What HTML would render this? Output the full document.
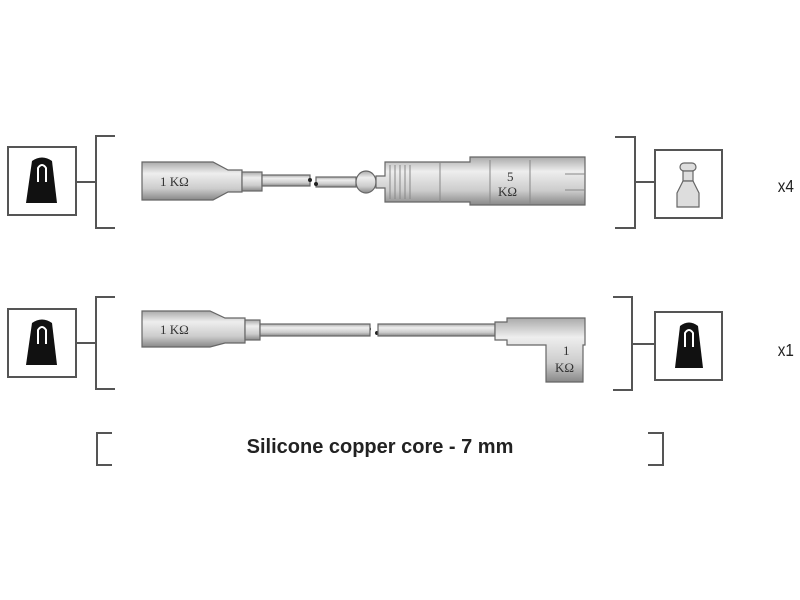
<!DOCTYPE html>
<html><head><style>body{margin:0;background:#fff}svg{display:block}</style></head><body>
<svg width="800" height="600" viewBox="0 0 800 600" xmlns="http://www.w3.org/2000/svg">
<defs>
<linearGradient id="g" x1="0" y1="0" x2="0" y2="1">
<stop offset="0" stop-color="#aaa"/><stop offset="0.3" stop-color="#eee"/><stop offset="0.7" stop-color="#ccc"/><stop offset="1" stop-color="#888"/>
</linearGradient>
</defs>
<g fill="none" stroke="#555" stroke-width="2">
<rect x="8" y="147" width="68" height="68"/>
<path d="M76 182H96M115 136H96V228H115"/>
<path d="M615 137H635V228H615M635 182H655"/>
<rect x="655" y="150" width="67" height="68"/>
<rect x="8" y="309" width="68" height="68"/>
<path d="M76 343H96M115 297H96V389H115"/>
<path d="M613 297H632V390H613M632 344H655"/>
<rect x="655" y="312" width="67" height="68"/>
<path d="M112 433H97V465H112"/>
<path d="M648 433H663V465H648"/>
</g>
<g fill="#111">
<path d="M32 161Q42 154 52 161L57 203H26Z"/>
<path d="M32 323Q42 316 52 323L57 365H26Z"/>
<path d="M680 326Q689 319 698 326L703 368H675Z"/>
</g>
<g fill="none" stroke="#fff" stroke-width="2"><path d="M38 182V168Q42 162 46 168V182"/><path d="M38 344V330Q42 324 46 330V344"/><path d="M685 347V333Q689 327 693 333V347"/></g>
<g stroke="#666" fill="#ddd" stroke-width="1.2">
<rect x="680" y="163" width="16" height="8" rx="4"/>
<rect x="683" y="171" width="10" height="10"/>
<path d="M683 181L677 193V207H699V193L693 181Z"/>
</g>
<g stroke="#666" stroke-width="1.2" fill="url(#g)">
<path d="M142 162H213L228 170H242V192H228L213 200H142Z"/>
<rect x="242" y="172" width="20" height="19"/>
<rect x="262" y="175" width="48" height="11"/>
<rect x="316" y="177" width="40" height="10"/>
<ellipse cx="366" cy="182" rx="10" ry="11"/>
<path d="M376 176H385V162H470V157H585V205H470V202H385V188H376Z"/>
</g>
<g stroke="#888" fill="none"><path d="M390 165V199M395 165V199M400 165V199M405 165V199M410 165V199M440 162V202M490 160V204M530 160V204M565 174H585M565 190H585"/></g>
<g fill="#222"><circle cx="310" cy="180" r="2"/><circle cx="316" cy="184" r="2"/><circle cx="369" cy="329" r="2"/><circle cx="377" cy="333" r="2"/></g>
<g stroke="#666" stroke-width="1.2" fill="url(#g)">
<path d="M142 311H210L225 318H245V343H225L210 347H142Z"/>
<rect x="245" y="320" width="15" height="20"/>
<rect x="260" y="324" width="110" height="12"/>
<rect x="378" y="324" width="117" height="12"/>
<path d="M495 322H507V318H585V345H583V382H546V345H507V340H495Z"/>
</g>
<g font-family="Liberation Serif, serif" font-size="13" fill="#333">
<text x="160" y="186">1 KΩ</text>
<text x="160" y="334">1 KΩ</text>
<text x="507" y="181">5</text><text x="498" y="196">KΩ</text>
<text x="563" y="355">1</text><text x="555" y="372">KΩ</text>
</g>
<g font-family="Liberation Sans, sans-serif" font-size="18" fill="#222" transform="scale(0.85,1)">
<text x="915" y="192">x4</text>
<text x="915" y="356">x1</text>
</g>
<text x="380" y="453" text-anchor="middle" font-family="Liberation Sans, sans-serif" font-weight="bold" font-size="20" fill="#222">Silicone copper core - 7 mm</text>
</svg>
</body></html>
